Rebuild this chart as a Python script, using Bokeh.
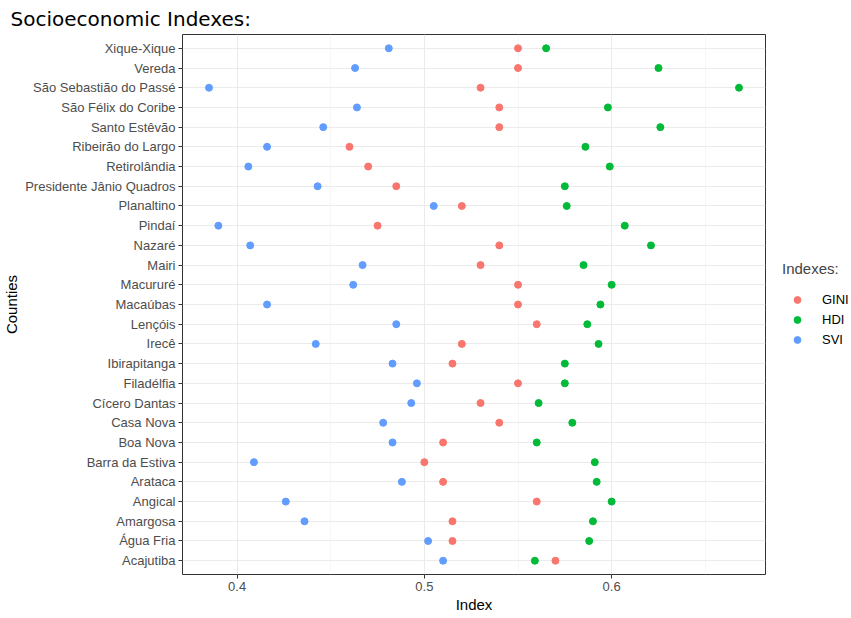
from bokeh.plotting import figure
from bokeh.layouts import row
from bokeh.models import FactorRange, Range1d, FixedTicker, Legend, LegendItem
from bokeh.embed import file_html
from bokeh.resources import INLINE

counties = ["Xique-Xique", "Vereda", "São Sebastião do Passé", "São Félix do Coribe",
            "Santo Estêvão", "Ribeirão do Largo", "Retirolândia", "Presidente Jânio Quadros",
            "Planaltino", "Pindaí", "Nazaré", "Mairi", "Macururé", "Macaúbas", "Lençóis",
            "Irecê", "Ibirapitanga", "Filadélfia", "Cícero Dantas", "Casa Nova", "Boa Nova",
            "Barra da Estiva", "Arataca", "Angical", "Amargosa", "Água Fria", "Acajutiba"]
gini = [0.55, 0.55, 0.53, 0.54, 0.54, 0.46, 0.47, 0.485, 0.52, 0.475, 0.54, 0.53, 0.55, 0.55,
        0.56, 0.52, 0.515, 0.55, 0.53, 0.54, 0.51, 0.50, 0.51, 0.56, 0.515, 0.515, 0.57]
hdi = [0.565, 0.625, 0.668, 0.598, 0.626, 0.586, 0.599, 0.575, 0.576, 0.607, 0.621, 0.585,
       0.600, 0.594, 0.587, 0.593, 0.575, 0.575, 0.561, 0.579, 0.560, 0.591, 0.592, 0.600,
       0.590, 0.588, 0.559]
svi = [0.481, 0.463, 0.385, 0.464, 0.446, 0.416, 0.406, 0.443, 0.505, 0.390, 0.407, 0.467,
       0.462, 0.416, 0.485, 0.442, 0.483, 0.496, 0.493, 0.478, 0.483, 0.409, 0.488, 0.426,
       0.436, 0.502, 0.510]
series_names = ["GINI", "HDI", "SVI"]
series_colors = ["#F8766D", "#00BA38", "#619CFF"]
x_ticks = [0.4, 0.5, 0.6]
x_minor = [0.35, 0.45, 0.55, 0.65]

allv = gini + hdi + svi
lo, hi = min(allv), max(allv)
pad = 0.05 * (hi - lo)

yr = FactorRange(factors=counties[::-1], range_padding=0.2, range_padding_units="absolute")

p = figure(y_range=yr, x_range=Range1d(lo - pad, hi + pad),
           frame_width=583, frame_height=540,
           output_backend="svg", toolbar_location=None,
           min_border_left=175, min_border_right=4, min_border_top=10, min_border_bottom=8,
           title="Socioeconomic Indexes:")

p.title.text_font = "DejaVu Sans"
p.title.text_font_size = "20px"
p.title.text_font_style = "normal"
p.title.text_color = "#000000"
p.title.offset = -172
p.title.standoff = 8

p.background_fill_color = "white"
p.border_fill_color = "white"
p.outline_line_color = "#333333"
p.outline_line_width = 1

p.xaxis.ticker = FixedTicker(ticks=x_ticks, minor_ticks=x_minor)
p.xgrid.ticker = FixedTicker(ticks=x_ticks, minor_ticks=x_minor)
p.xgrid.grid_line_color = "#EBEBEB"
p.xgrid.grid_line_width = 1.1
p.xgrid.minor_grid_line_color = "#F2F2F2"
p.xgrid.minor_grid_line_width = 0.6
p.ygrid.grid_line_color = "#EBEBEB"
p.ygrid.grid_line_width = 1.1

for ax in (p.xaxis, p.yaxis):
    ax.axis_line_color = None
    ax.major_tick_line_color = "#333333"
    ax.major_tick_in = 0
    ax.major_tick_out = 4
    ax.minor_tick_line_color = None
    ax.major_label_text_font = "Liberation Sans"
    ax.major_label_text_font_size = "13px"
    ax.major_label_text_color = "#4D4D4D"
    ax.axis_label_text_font = "Liberation Sans"
    ax.axis_label_text_font_size = "15px"
    ax.axis_label_text_font_style = "normal"
    ax.axis_label_text_color = "#000000"
    ax.major_label_standoff = 3
    ax.axis_label_standoff = 2

p.xaxis.axis_label = "Index"
p.yaxis.axis_label = "Counties"

for name, vals, col in zip(series_names, [gini, hdi, svi], series_colors):
    p.scatter(x=vals, y=counties, size=7, fill_color=col, line_color=col)

# separate legend panel; its own copies of the series sit outside its visible range
lg = figure(width=80, height=602, output_backend="svg", toolbar_location=None,
            x_range=Range1d(5, 6), y_range=Range1d(5, 6),
            min_border=0, min_border_left=0, min_border_right=0,
            min_border_top=0, min_border_bottom=0)
lg.axis.visible = False
lg.grid.visible = False
lg.outline_line_color = None
lg.background_fill_color = "white"
lg.border_fill_color = "white"

items = []
for name, vals, col in zip(series_names, [gini, hdi, svi], series_colors):
    r = lg.scatter(x=vals, y=vals, size=7, fill_color=col, line_color=col)
    items.append(LegendItem(label=name, renderers=[r]))

legend = Legend(items=items, title="Indexes:", location=(13, 213),
                border_line_color=None, background_fill_alpha=0,
                title_text_font="Liberation Sans", title_text_font_size="15px",
                title_text_font_style="normal", title_standoff=14,
                label_text_font="Liberation Sans", label_text_font_size="13px",
                label_text_color="#000000",
                glyph_width=30, glyph_height=17, label_height=17, spacing=3,
                label_standoff=10, padding=4, margin=0)
lg.add_layout(legend)

layout = row(p, lg)
open("out.html", "w").write(file_html(layout, INLINE))
